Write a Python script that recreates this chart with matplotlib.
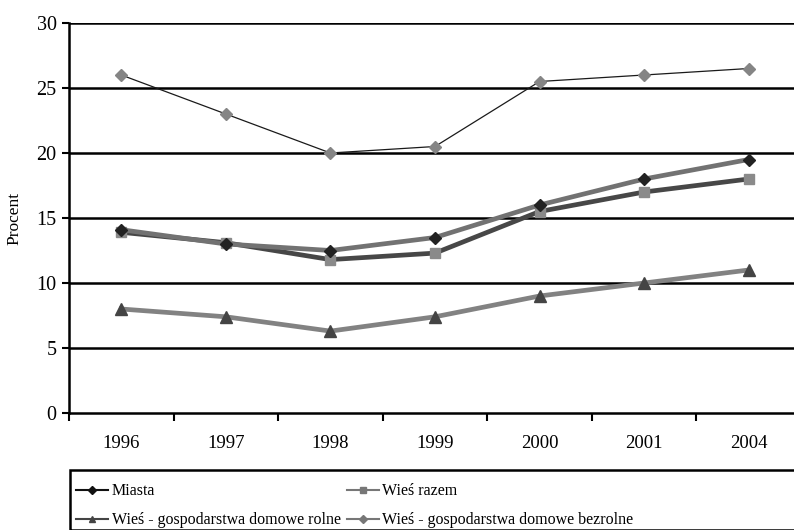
import numpy as np
import matplotlib.pyplot as plt
from matplotlib.lines import Line2D
from matplotlib.patches import Rectangle
from matplotlib.ticker import FixedLocator

plt.rcParams['font.family'] = ['Liberation Serif', 'DejaVu Serif']

years = ["1996", "1997", "1998", "1999", "2000", "2001", "2004"]
miasta = [14.1, 13.0, 12.5, 13.5, 16.0, 18.0, 19.5]
wies_razem = [13.9, 13.1, 11.8, 12.3, 15.5, 17.0, 18.0]
wies_rolne = [8.0, 7.4, 6.3, 7.4, 9.0, 10.0, 11.0]
wies_bezrolne = [26.0, 23.0, 20.0, 20.5, 25.5, 26.0, 26.5]

fig = plt.figure(figsize=(7.94, 5.30), dpi=100)
ax = fig.add_axes([69/794, 1-413/530, (801-69)/794, (413-23)/530])
x = np.arange(len(years))

for v in range(5, 31, 5):
  ax.axhline(v, color="black", linewidth=1.8, zorder=1)

ax.plot(x, wies_bezrolne, color="#1a1a1a", linewidth=0.9, marker="D", markersize=6.5,
        markerfacecolor="#858585", markeredgecolor="#858585", zorder=3)
ax.plot(x, wies_razem, color="#474747", linewidth=3.4, marker="s", markersize=7,
        markerfacecolor="#8a8a8a", markeredgecolor="#8a8a8a", zorder=3)
ax.plot(x, miasta, color="#727272", linewidth=3.4, marker="D", markersize=6.5,
        markerfacecolor="#222222", markeredgecolor="#222222", zorder=4)
ax.plot(x, wies_rolne, color="#828282", linewidth=3.4, marker="^", markersize=8.5,
        markerfacecolor="#444444", markeredgecolor="#444444", zorder=3)

ax.set_xlim(-0.5, len(years)-0.5)
ax.set_ylim(0, 30)
ax.set_yticks(range(0, 31, 5))
ax.tick_params(axis="y", direction="out", length=5, width=1.5, labelsize=14.5, pad=4)
ax.xaxis.set_major_locator(FixedLocator(np.arange(-0.5, len(years), 1.0)))
ax.xaxis.set_minor_locator(FixedLocator(x))
ax.set_xticklabels([])
ax.set_xticklabels(years, minor=True)
ax.tick_params(axis="x", which="major", direction="out", length=6, width=1.5)
ax.tick_params(axis="x", which="minor", length=0, labelsize=13.5, pad=16)
for s in ["top", "right"]:
  ax.spines[s].set_visible(False)
for s in ["left", "bottom"]:
  ax.spines[s].set_linewidth(1.8)
ax.set_ylabel("Procent", fontsize=12.5, labelpad=10)

fig.patches.append(Rectangle((70/794, 0), 740/794, (530-470)/530, transform=fig.transFigure,
                             fill=False, edgecolor="black", linewidth=1.8))

h_miasta = Line2D([], [], color="#111111", linewidth=1.5, marker="D", markersize=4,
                  markerfacecolor="#111111", markeredgecolor="#111111")
h_razem = Line2D([], [], color="#777777", linewidth=1.5, marker="s", markersize=4,
                 markerfacecolor="#777777", markeredgecolor="#777777")
h_rolne = Line2D([], [], color="#444444", linewidth=1.5, marker="^", markersize=5,
                 markerfacecolor="#444444", markeredgecolor="#444444")
h_bezrolne = Line2D([], [], color="#777777", linewidth=1.5, marker="D", markersize=4,
                    markerfacecolor="#777777", markeredgecolor="#777777")
# column-major order so rows read: Miasta | Wieś razem, rolne | bezrolne
handles = [h_miasta, h_rolne, h_razem, h_bezrolne]
labels = ["Miasta", "Wieś - gospodarstwa domowe rolne", "Wieś razem",
          "Wieś - gospodarstwa domowe bezrolne"]
fig.legend(handles, labels, loc="upper left", bbox_to_anchor=(62/794, 1-469/530),
           ncol=2, frameon=False, fontsize=11.5, handlelength=2.0, handletextpad=0.2,
           columnspacing=0.4, labelspacing=0.8)

fig.savefig("out.png", dpi=100)
